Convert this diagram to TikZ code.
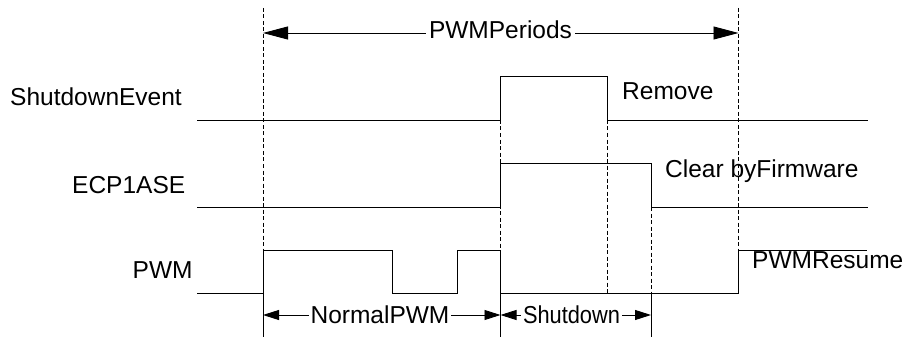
\documentclass[tikz,border=0pt]{standalone}
\usepackage{fontspec}
\setmainfont{Liberation Sans}
\usetikzlibrary{arrows.meta}
\begin{document}
\begin{tikzpicture}[x=1pt,y=-1pt,
  wave/.style={line width=0.9pt,line join=miter},
  guide/.style={line width=0.8pt,dash pattern=on 4pt off 2.5pt},
  tickline/.style={line width=0.9pt},
  bigarrow/.style={line width=0.9pt,-{Triangle[length=25pt,width=13pt]}},
  smallarrow/.style={line width=0.9pt,-{Triangle[length=16pt,width=10pt]}},
  lbl/.style={font=\fontsize{24.5}{29}\selectfont,inner sep=0pt,anchor=base west},
  mid/.style={font=\fontsize{24.5}{29}\selectfont,inner xsep=3pt,inner ysep=0pt,anchor=base}
]
\useasboundingbox (0,0) rectangle (906,337);

% guide lines
\draw[guide] (263,8) -- (263,250);
\draw[guide] (738.5,8) -- (738.5,250);
\draw[guide] (500.5,120) -- (500.5,250);
\draw[guide] (607.5,120) -- (607.5,293);
\draw[guide] (651,207) -- (651,293);

% tick marks below PWM
\draw[tickline] (263,293) -- (263,337);
\draw[tickline] (500.5,293) -- (500.5,337);
\draw[tickline] (651,293) -- (651,337);

% waveforms
\draw[wave] (197,120) -- (500.5,120) -- (500.5,76) -- (607.5,76) -- (607.5,120) -- (868,120);
\draw[wave] (197,207) -- (500.5,207) -- (500.5,163.5) -- (651,163.5) -- (651,207) -- (868,207);
\draw[wave] (197,293) -- (263,293) -- (263,250) -- (392,250) -- (392,293) -- (457,293)
  -- (457,250) -- (500.5,250) -- (500.5,293) -- (738.5,293) -- (738.5,250) -- (867,250);

% signal labels
\node[lbl] (lse) at (10,106) {ShutdownEvent};
\node[lbl] (lecp) at (72,193) {ECP1ASE};
\node[lbl] (lpwm) at (132.5,278) {PWM};
\node[lbl] (lrem) at (622,99.5) {Remove};
\node[lbl] (lclr) at (665,177) {Clear byFirmware};
\node[lbl] (lres) at (752,268) {PWMResume};

% PWM periods
\coordinate (ppl) at (263,33);
\coordinate (ppr) at (738.5,33);
\node[mid] (pp) at (500.5,38.3) {PWMPeriods};
\draw[bigarrow] (pp.west |- ppl) -- (ppl);
\draw[bigarrow] (pp.east |- ppr) -- (ppr);

% Normal PWM
\coordinate (npl) at (263,315);
\coordinate (npr) at (500.5,315);
\node[mid,inner xsep=1.5pt] (np) at (380,323) {NormalPWM};
\draw[smallarrow] (np.west |- npl) -- (npl);
\draw[smallarrow] (np.east |- npr) -- (npr);

% Shutdown
\coordinate (sdl) at (500.5,315);
\coordinate (sdr) at (651,315);
\node[mid,inner xsep=2pt] (sd) at (571.5,323) {\scalebox{0.89}[1]{Shutdown}};
\draw[smallarrow] (sd.west |- sdl) -- (sdl);
\draw[smallarrow] (sd.east |- sdr) -- (sdr);
\end{tikzpicture}
\end{document}
